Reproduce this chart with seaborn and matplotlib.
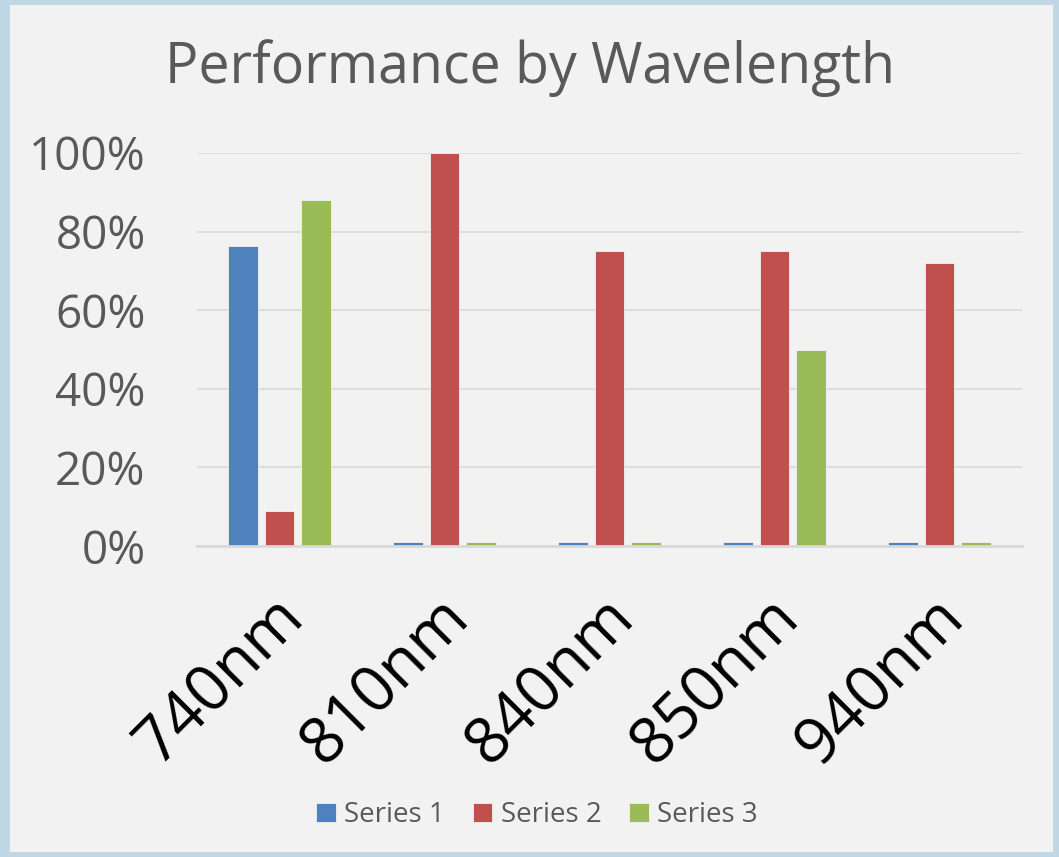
import pandas as pd
import matplotlib.pyplot as plt
import seaborn as sns
from matplotlib.patches import Rectangle
from matplotlib.ticker import PercentFormatter
from matplotlib.transforms import ScaledTranslation

# Chart data
wavelengths = ['740nm', '810nm', '840nm', '850nm', '940nm']
series_names = ['Series 1', 'Series 2', 'Series 3']
series1 = [0.763, 0.01, 0.01, 0.01, 0.01]
series2 = [0.09, 1.00, 0.75, 0.75, 0.72]
series3 = [0.88, 0.01, 0.01, 0.50, 0.01]
colors = ['#4F81BD', '#C0504D', '#9BBB59']

# Long form table for seaborn
rows = []
for name, vals in zip(series_names, [series1, series2, series3]):
    for wl, v in zip(wavelengths, vals):
        rows.append({'Wavelength': wl, 'Series': name, 'Value': v})
df = pd.DataFrame(rows)

sns.set_theme(style='white')
plt.rcParams['font.family'] = ['Open Sans', 'DejaVu Sans']

fig = plt.figure(figsize=(10.59, 8.57), dpi=100)
fig.patch.set_facecolor('#C0D8E6')
# inner panel
fig.patches.append(Rectangle((10 / 1059, 5 / 857), 1043 / 1059, 847 / 857,
                             transform=fig.transFigure, facecolor='#F2F2F2',
                             edgecolor='none', zorder=-1))

ax = fig.add_axes([197 / 1059, 1 - 546 / 857, 825 / 1059, 393 / 857])
ax.set_facecolor('#F2F2F2')

sns.barplot(data=df, x='Wavelength', y='Value', hue='Series', order=wavelengths,
            hue_order=series_names, palette=colors, saturation=1, width=0.663, gap=0.2,
            edgecolor='#F2F2F2', linewidth=0.6, ax=ax, legend=True)

ax.set_ylim(0, 1.0)
ax.set_xlim(-0.5, 4.5)
ax.set_yticks([0, 0.2, 0.4, 0.6, 0.8, 1.0])
ax.yaxis.set_major_formatter(PercentFormatter(1.0, decimals=0))
ax.grid(axis='y', color='#D9D9D9', linewidth=1.2)
ax.set_axisbelow(True)
for side in ['top', 'right', 'left']:
    ax.spines[side].set_visible(False)
ax.spines['bottom'].set_color('#D9D9D9')
ax.spines['bottom'].set_linewidth(2)
ax.set_xlabel('')
ax.set_ylabel('')
ax.tick_params(axis='y', labelsize=33, colors='#595959', length=0, pad=37)
ax.tick_params(axis='x', length=0, pad=28)
for lbl in ax.get_yticklabels():
    lbl.set_color('#595959')
plt.setp(ax.get_xticklabels(), rotation=45, ha='right', rotation_mode='anchor',
         fontsize=46, color='black')
# nudge rotated labels a little to the left
shift = ScaledTranslation(-8 / 100, 0, fig.dpi_scale_trans)
for lbl in ax.get_xticklabels():
    lbl.set_transform(lbl.get_transform() + shift)

fig.text(530 / 1059, 1 - 68 / 857, 'Performance by Wavelength', ha='center',
         va='center', fontsize=40, color='#595959')

handles, labels = ax.get_legend_handles_labels()
ax.get_legend().remove()
fig.legend(handles, labels, loc='center', bbox_to_anchor=(537 / 1059, 1 - 815 / 857),
           ncol=3, frameon=False, fontsize=20, labelcolor='#595959',
           handlelength=0.7, handleheight=0.7, handletextpad=0.3, columnspacing=1.0)

fig.savefig('out.png', dpi=100, facecolor=fig.get_facecolor())
